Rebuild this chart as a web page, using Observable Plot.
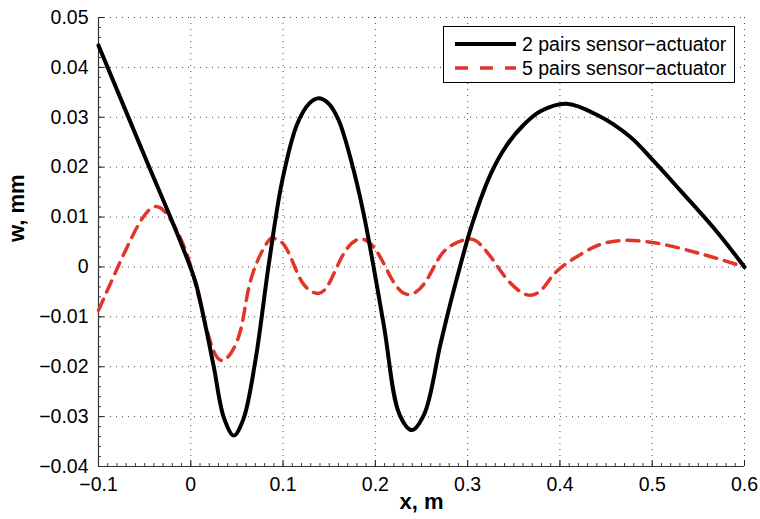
<!DOCTYPE html>
<html>
<head>
<meta charset="utf-8">
<script src="https://cdn.jsdelivr.net/npm/d3@7"></script>
<script src="https://cdn.jsdelivr.net/npm/@observablehq/plot@0.6"></script>
<style>
  html, body { margin: 0; padding: 0; background: #fff; }
  #wrap { position: relative; width: 760px; height: 519px; font-family: "Liberation Sans", Arial, Helvetica, sans-serif; }
  #legend { position: absolute; left: 443px; top: 26px; width: 290px; height: 55px; border: 1px solid #000; background: #fff; }
  .row { position: absolute; left: 0; height: 24px; display: flex; align-items: center; font-size: 19.5px; color: #000; white-space: nowrap; }
  .row svg { margin-left: 11px; margin-right: 6px; }
</style>
</head>
<body>
<div id="wrap"></div>
<script>
// ---- data ----
const seriesNames = ["2 pairs sensor\u2212actuator", "5 pairs sensor\u2212actuator"];

const x2 = [-0.1, -0.05, -0.01, 0.005, 0.015, 0.025, 0.036, 0.0466, 0.057, 0.070, 0.0845, 0.099, 0.115, 0.128, 0.1386, 0.149, 0.160, 0.1735, 0.1875, 0.209, 0.226, 0.2395, 0.253, 0.2705, 0.2814, 0.2922, 0.3047, 0.3247, 0.3428, 0.3608, 0.3789, 0.407, 0.44, 0.476, 0.5017, 0.5306, 0.5667, 0.6];
const y2 = [0.0444, 0.0222, 0.0045, -0.0030, -0.0110, -0.0201, -0.0303, -0.0338, -0.0305, -0.0188, 0.0005, 0.0172, 0.0285, 0.0327, 0.0338, 0.0328, 0.0295, 0.0215, 0.0105, -0.0115, -0.0295, -0.0327, -0.0295, -0.0155, -0.0072, 0.0004, 0.0085, 0.0185, 0.0245, 0.0285, 0.0312, 0.0327, 0.0305, 0.0261, 0.0212, 0.0153, 0.0078, 0.0];

const x5 = [-0.1, -0.076, -0.055, -0.038, -0.022, -0.005, 0.0087, 0.0232, 0.0376, 0.0538, 0.0647, 0.0828, 0.0918, 0.1008, 0.1116, 0.1224, 0.138, 0.1513, 0.1658, 0.1838, 0.202, 0.218, 0.2344, 0.2524, 0.267, 0.2814, 0.3012, 0.3139, 0.3283, 0.3428, 0.3645, 0.3825, 0.397, 0.4258, 0.451, 0.48, 0.5125, 0.5414, 0.5667, 0.6];
const y5 = [-0.0087, 0.0012, 0.0090, 0.0121, 0.0095, 0.0030, -0.0061, -0.0161, -0.0185, -0.0128, -0.0028, 0.0049, 0.0056, 0.0045, 0.0005, -0.0035, -0.0053, -0.0028, 0.0027, 0.0056, 0.0030, -0.0025, -0.0055, -0.0035, 0.0012, 0.0042, 0.0056, 0.0045, 0.0012, -0.0025, -0.0056, -0.0041, -0.0008, 0.0029, 0.0049, 0.0053, 0.0045, 0.0032, 0.0019, 0.0];

const xTicks = [-0.1, 0, 0.1, 0.2, 0.3, 0.4, 0.5, 0.6];
const yTicks = [-0.04, -0.03, -0.02, -0.01, 0, 0.01, 0.02, 0.03, 0.04, 0.05];
const xMinor = d3.range(-100, 601, 10).map(v => v / 1000);
const yMinor = d3.range(-40, 51, 2).map(v => v / 1000);
const xLabel = "x, m";
const yLabel = "w, mm";

// ---- build ----
const d2 = x2.map((x, i) => ({x, y: y2[i]}));
const d5 = x5.map((x, i) => ({x, y: y5[i]}));
const W = 760, H = 519, mL = 98, mR = 16, mT = 17, mB = 53;
const pw = W - mL - mR, ph = H - mT - mB;
const black = "#000", red = "#e2352a";
const fmtX = d => d === 0 ? "0" : d3.format(".1f")(d);
const fmtY = d => d === 0 ? "0" : d3.format(".2f")(d);
const font = "'Liberation Sans', Arial, Helvetica, sans-serif";

const chart = Plot.plot({
  width: W, height: H,
  marginLeft: mL, marginRight: mR, marginTop: mT, marginBottom: mB,
  style: {fontFamily: font, fontSize: "19.5px", color: "#000", background: "#fff", overflow: "visible"},
  x: {domain: [-0.1, 0.6]},
  y: {domain: [-0.04, 0.05]},
  marks: [
    Plot.ruleX(xTicks, {x: d => d, stroke: "#222", strokeWidth: 1, strokeDasharray: "1,5", strokeOpacity: 0.8}),
    Plot.ruleY(yTicks, {y: d => d, stroke: "#222", strokeWidth: 1, strokeDasharray: "1,5", strokeOpacity: 0.8}),
    Plot.tickX(xMinor, {x: d => d, insetTop: ph - 3, stroke: "#444"}),
    Plot.tickY(yMinor, {y: d => d, insetRight: pw - 3, stroke: "#444"}),
    Plot.tickX(xTicks, {x: d => d, insetTop: ph - 6, stroke: "#222"}),
    Plot.tickY(yTicks, {y: d => d, insetRight: pw - 6, stroke: "#222"}),
    Plot.ruleX([-0.1], {stroke: "#333", strokeWidth: 1.2}),
    Plot.ruleY([-0.04], {stroke: "#333", strokeWidth: 1.2}),
    Plot.axisX({ticks: xTicks, tickFormat: fmtX, tickSize: 0, tickPadding: 11, label: null, fontSize: 19.5}),
    Plot.axisY({ticks: yTicks, tickFormat: fmtY, tickSize: 0, tickPadding: 10, label: null, fontSize: 19.5}),
    Plot.line(d5, {x: "x", y: "y", stroke: red, strokeWidth: 3.5, strokeDasharray: "12,8", curve: "natural"}),
    Plot.line(d2, {x: "x", y: "y", stroke: black, strokeWidth: 4, curve: "catmull-rom"}),
    Plot.text([xLabel], {frameAnchor: "bottom", dy: 42, fontWeight: "bold", fontSize: 22, fill: "#000"}),
    Plot.text([yLabel], {frameAnchor: "left", dx: -82, rotate: -90, fontWeight: "bold", fontSize: 22, fill: "#000"})
  ]
});

const wrap = document.getElementById("wrap");
wrap.appendChild(chart);

// legend
const leg = document.createElement("div");
leg.id = "legend";
const styles = [{stroke: black, dash: null, w: 4}, {stroke: red, dash: "13,12", w: 3.5}];
seriesNames.forEach((name, i) => {
  const row = document.createElement("div");
  row.className = "row";
  row.style.top = (5 + i * 24) + "px";
  const s = d3.create("svg").attr("width", 61).attr("height", 10);
  s.append("line").attr("x1", 0).attr("x2", 61).attr("y1", 5).attr("y2", 5)
    .attr("stroke", styles[i].stroke).attr("stroke-width", styles[i].w)
    .attr("stroke-dasharray", styles[i].dash);
  row.appendChild(s.node());
  const t = document.createElement("span");
  t.textContent = name;
  row.appendChild(t);
  leg.appendChild(row);
});
wrap.appendChild(leg);
</script>
</body>
</html>
